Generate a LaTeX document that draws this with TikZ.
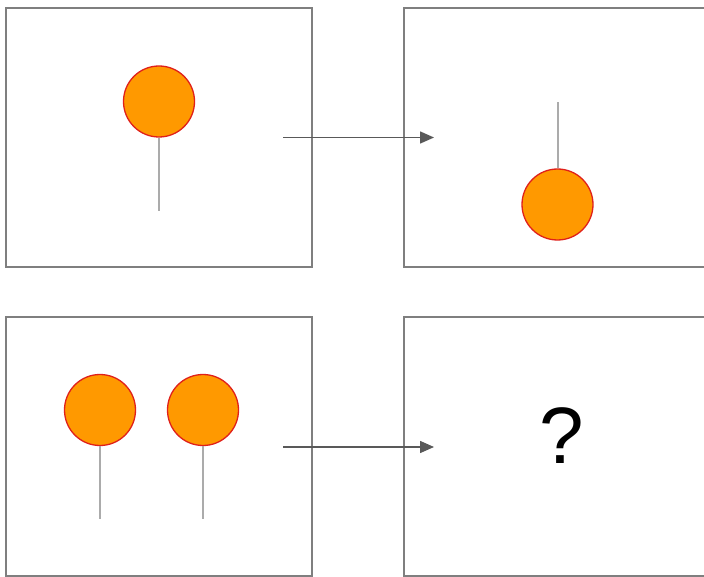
\documentclass[tikz,border=0pt]{standalone}
\usepackage{fontspec}
\setmainfont{Liberation Sans}
\usetikzlibrary{arrows.meta}
\definecolor{boxgray}{HTML}{7F7F7F}
\definecolor{arrgray}{HTML}{595959}
\definecolor{stemgray}{HTML}{ABABAB}
\definecolor{pinfill}{HTML}{FF9900}
\definecolor{pinline}{HTML}{E0201A}
\tikzset{
  panel/.style={draw=boxgray, line width=1.5pt, fill=white},
  pin/.style={circle, draw=pinline, fill=pinfill, line width=1.3pt, minimum size=71pt, inner sep=0pt},
  stem/.style={draw=stemgray, line width=2pt},
  flow/.style={draw=arrgray, line width=1.5pt, -{Triangle[length=14pt,width=12pt]}},
}
\begin{document}
\begin{tikzpicture}[x=1pt,y=-1pt]
\useasboundingbox (0,0) rectangle (704,577);
\fill[white] (0,0) rectangle (704,577);
% panels
\draw[panel] (6,8) rectangle (312,267);
\draw[panel] (404,8) rectangle (720,267);
\draw[panel] (6,317) rectangle (312,576);
\draw[panel] (404,317) rectangle (720,576);
% top-left pin
\coordinate (s1) at (159,211);
\node[pin] (p1) at (159,101.5) {};
\draw[stem] (p1.south) -- (s1);
% top-right pin
\coordinate (s2) at (557.5,102);
\node[pin] (p2) at (557.5,204.5) {};
\draw[stem] (p2.north) -- (s2);
% bottom-left pins
\coordinate (s3) at (100,519);
\node[pin] (p3) at (100,410) {};
\draw[stem] (p3.south) -- (s3);
\coordinate (s4) at (203,519);
\node[pin] (p4) at (203,410) {};
\draw[stem] (p4.south) -- (s4);
% arrows
\coordinate (a1) at (283,137.5);
\coordinate (b1) at (434,137.5);
\draw[flow] (a1) -- (b1);
\coordinate (a2) at (283,447);
\coordinate (b2) at (434,447);
\draw[flow] (a2) -- (b2);
% question mark
\node[inner sep=0pt, anchor=base] (q) at (562,463) {\fontsize{80}{96}\selectfont ?};
\end{tikzpicture}
\end{document}
